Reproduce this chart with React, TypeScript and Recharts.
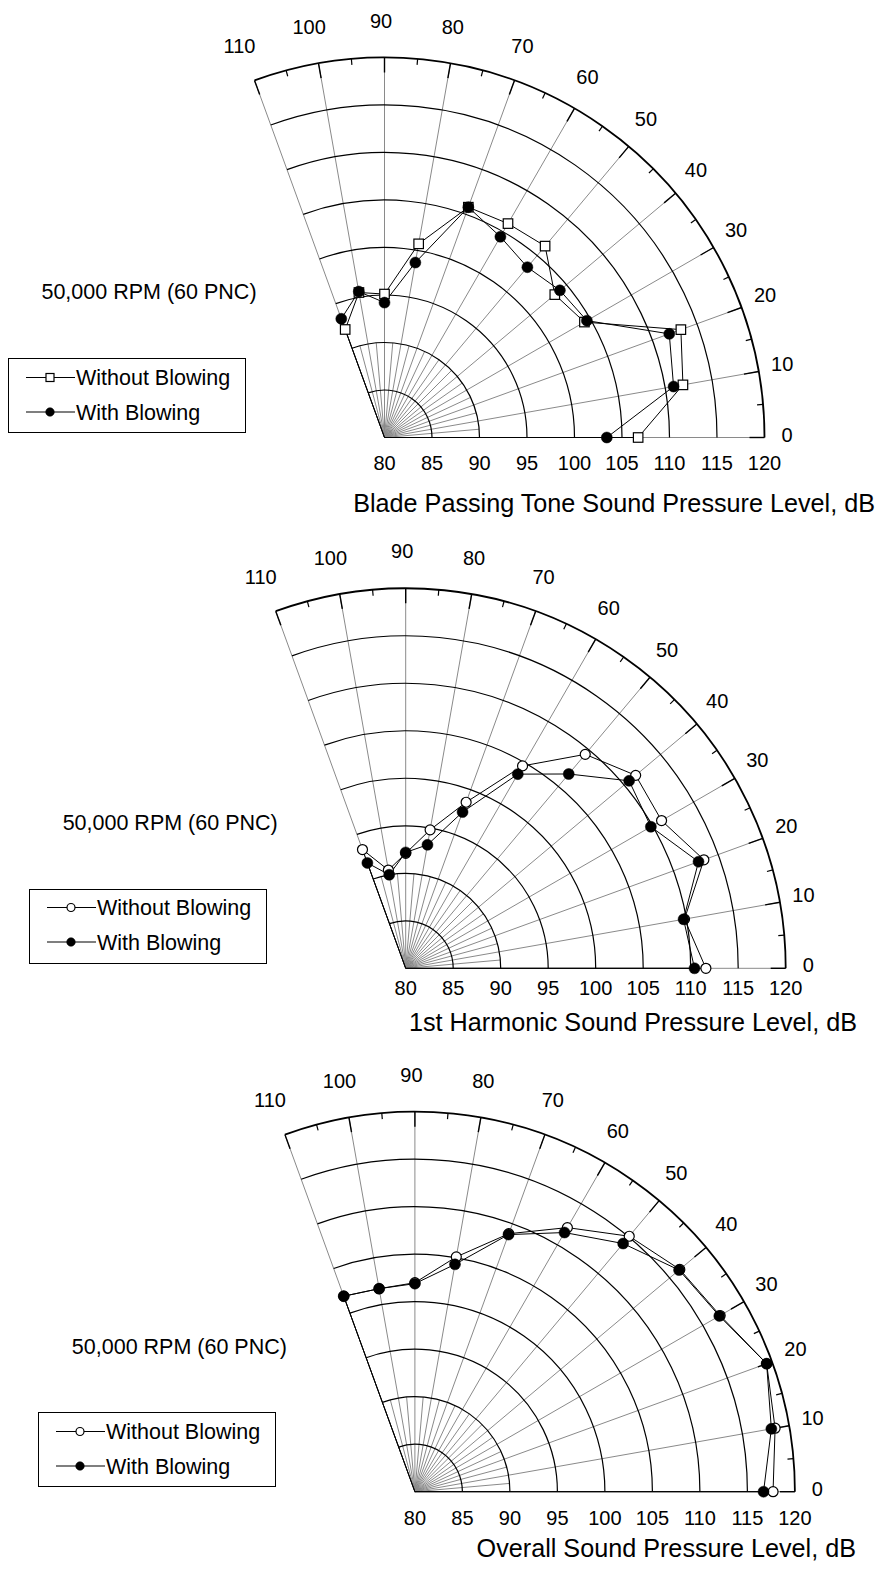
import React from 'react';
import { RadarChart, Radar, PolarGrid, PolarAngleAxis, PolarRadiusAxis, Legend } from 'recharts';

// ---- data ----
const ANGLES = [0, 10, 20, 30, 40, 50, 60, 70, 80, 90, 100, 110];
const MINOR_ANGLES = [5, 15, 25, 35, 45, 55, 65, 75, 85, 95, 105];
const RADIUS_TICKS = [80, 85, 90, 95, 100, 105, 110, 115, 120];
const ARC_LEVELS = [85, 90, 95, 100, 105, 110, 115];

const BPT_WITHOUT = [106.7, 111.9, 113.2, 104.3, 103.4, 106.3, 106.0, 105.8, 100.7, 95.1, 95.5, 92.1];
const BPT_WITH = [103.4, 110.9, 111.9, 104.6, 104.1, 103.4, 104.4, 105.8, 98.7, 94.2, 95.6, 93.3];

const H1_WITHOUT = [111.6, 109.8, 113.4, 111.1, 111.6, 109.4, 104.6, 98.6, 94.8, 92.1, 90.5, 93.3];
const H1_WITH = [110.4, 109.7, 112.8, 109.8, 110.7, 106.7, 103.6, 97.5, 93.2, 92.2, 90.0, 91.8];

const OA_WITHOUT = [117.7, 118.5, 119.4, 117.1, 116.4, 115.1, 112.1, 108.9, 105.1, 102.0, 101.7, 101.9];
const OA_WITH = [116.7, 118.1, 119.4, 117.0, 116.3, 114.1, 111.5, 108.8, 104.3, 101.9, 101.7, 101.9];

const SERIES_NAMES = ['Without Blowing', 'With Blowing'];
const CONDITION_LABEL = '50,000 RPM (60 PNC)';
const TITLES = [
  'Blade Passing Tone Sound Pressure Level, dB',
  '1st Harmonic Sound Pressure Level, dB',
  'Overall Sound Pressure Level, dB',
];

// ---- styling / layout ----
const FONT = '"Liberation Sans", Arial, Helvetica, sans-serif';
const R = 380;
const R_MIN = 80;
const R_MAX = 120;

type Kind = 'square' | 'open' | 'filled';

function buildRows(without: number[], withB: number[]) {
  const rows: any[] = ANGLES.map((a, i) => ({ angle: a, without: without[i], with: withB[i] }));
  // trailing empty row keeps the polyline open (no closing segment)
  rows.push({ angle: 110, without: null, with: null });
  return rows;
}

function Marker({ kind, x, y, size }: { kind: Kind; x: number; y: number; size: number }) {
  if (kind === 'square') {
    return <rect x={x - size / 2} y={y - size / 2} width={size} height={size} fill="#fff" stroke="#000" strokeWidth={1.2} />;
  }
  if (kind === 'open') {
    return <circle cx={x} cy={y} r={size / 2} fill="#fff" stroke="#000" strokeWidth={1.2} />;
  }
  return <circle cx={x} cy={y} r={size / 2} fill="#000" stroke="#000" strokeWidth={0.5} />;
}

function makeDot(kind: Kind, size: number, dataKey: string) {
  return (p: any) => {
    const key = `dot-${dataKey}-${p.index}`;
    const v = p.payload ? p.payload[dataKey] : p.value;
    if (v == null || !Number.isFinite(p.cx) || !Number.isFinite(p.cy)) return <g key={key} />;
    return (
      <g key={key}>
        <Marker kind={kind} x={p.cx} y={p.cy} size={size} />
      </g>
    );
  };
}

function SectorGrid({ cx, cy }: { cx: number; cy: number }) {
  const rOf = (v: number) => ((v - R_MIN) / (R_MAX - R_MIN)) * R;
  const pt = (r: number, a: number) => [cx + r * Math.cos((a * Math.PI) / 180), cy - r * Math.sin((a * Math.PI) / 180)];
  const arc = (r: number) => {
    const [x0, y0] = pt(r, 0);
    const [x1, y1] = pt(r, 110);
    return `M${x0},${y0} A${r},${r} 0 0 0 ${x1},${y1}`;
  };
  const rMinor = rOf(90);
  return (
    <g className="sector-grid">
      {MINOR_ANGLES.map((a) => {
        const [x, y] = pt(rMinor, a);
        return <line key={`ms${a}`} x1={cx} y1={cy} x2={x} y2={y} stroke="#8a8a8a" strokeWidth={1} />;
      })}
      {ARC_LEVELS.map((v) => (
        <path key={`arc${v}`} d={arc(rOf(v))} fill="none" stroke="#000" strokeWidth={1.2} />
      ))}
      <path d={arc(R)} fill="none" stroke="#000" strokeWidth={1.8} />
      {ANGLES.map((a) => {
        const [x0, y0] = pt(R - 15, a);
        const [x1, y1] = pt(R, a);
        return <line key={`mt${a}`} x1={x0} y1={y0} x2={x1} y2={y1} stroke="#000" strokeWidth={1.4} />;
      })}
      {MINOR_ANGLES.map((a) => {
        const [x0, y0] = pt(R - 6, a);
        const [x1, y1] = pt(R, a);
        return <line key={`nt${a}`} x1={x0} y1={y0} x2={x1} y2={y1} stroke="#000" strokeWidth={1.2} />;
      })}
    </g>
  );
}

function LegendBox({ payload, kind }: { payload?: any[]; kind: Kind }) {
  const names = (payload && payload.length ? payload.map((p) => p.value) : SERIES_NAMES)
    .slice()
    .sort((a: string, b: string) => SERIES_NAMES.indexOf(a) - SERIES_NAMES.indexOf(b));
  return (
    <div
      style={{
        width: 238,
        height: 75,
        boxSizing: 'border-box',
        border: '1.5px solid #000',
        background: '#fff',
        position: 'relative',
      }}
    >
      <svg width={238} height={75} style={{ position: 'absolute', left: -1.5, top: -1.5 }}>
        {names.map((n: string, i: number) => {
          const y = i === 0 ? 19.5 : 54;
          const k: Kind = n === SERIES_NAMES[0] ? kind : 'filled';
          return (
            <g key={n}>
              <line x1={18} x2={67} y1={y} y2={y} stroke="#000" strokeWidth={1.2} />
              <Marker kind={k} x={42} y={y} size={k === 'filled' ? 8.6 : 8} />
              <text x={68} y={y + 7.6} fontSize={21.5} fontFamily={FONT} fill="#000">
                {n}
              </text>
            </g>
          );
        })}
      </svg>
    </div>
  );
}

type PanelProps = {
  top: number;
  cx: number;
  cy: number;
  without: number[];
  withB: number[];
  kind: Kind;
  title: string;
  titleRight: number;
  titleBaseline: number;
  tickDy: number;
};

function Panel({ top, cx, cy, without, withB, kind, title, titleRight, titleBaseline, tickDy }: PanelProps) {
  const rows = buildRows(without, withB);
  const angleTick = (p: any) => {
    const a = p.payload?.coordinate ?? p.payload?.value ?? 0;
    const rad = (a * Math.PI) / 180;
    const L = 406 + 8 * Math.sin(rad);
    const x = cx + L * Math.cos(rad) - 3.5;
    const y = cy - L * Math.sin(rad) - 3;
    return (
      <text x={x} y={y + 7} textAnchor="middle" fontSize={20} fontFamily={FONT} fill="#000">
        {p.payload?.value}
      </text>
    );
  };
  const radiusTick = (p: any) => (
    <text x={p.x} y={cy + tickDy} textAnchor="middle" fontSize={20} fontFamily={FONT} fill="#000">
      {p.payload?.value}
    </text>
  );
  return (
    <div style={{ position: 'absolute', left: 0, top, width: 880, height: 530 }}>
      <RadarChart
        width={880}
        height={530}
        data={rows}
        cx={cx}
        cy={cy}
        innerRadius={0}
        outerRadius={R}
        startAngle={0}
        endAngle={110}
        margin={{ top: 0, right: 0, bottom: 0, left: 0 }}
      >
        <PolarGrid gridType="circle" polarAngles={ANGLES} polarRadius={[]} stroke="#8a8a8a" strokeWidth={1} />
        <SectorGrid cx={cx} cy={cy} />
        <PolarAngleAxis
          dataKey="angle"
          type="number"
          scale="linear"
          domain={[0, 110]}
          ticks={ANGLES}
          axisLine={false}
          tickLine={false}
          tick={angleTick}
        />
        <PolarRadiusAxis
          type="number"
          domain={[R_MIN, R_MAX]}
          angle={0}
          ticks={RADIUS_TICKS}
          axisLine={false}
          tickLine={false}
          tick={radiusTick}
          allowDataOverflow
        />
        <Radar
          name={SERIES_NAMES[0]}
          dataKey="without"
          stroke="#000"
          strokeWidth={1}
          fill="none"
          fillOpacity={0}
          dot={makeDot(kind, kind === 'square' ? 9.5 : 10, 'without')}
          activeDot={false}
          isAnimationActive={false}
        />
        <Radar
          name={SERIES_NAMES[1]}
          dataKey="with"
          stroke="#000"
          strokeWidth={1}
          fill="none"
          fillOpacity={0}
          dot={makeDot('filled', 11, 'with')}
          activeDot={false}
          isAnimationActive={false}
        />
        <Legend
          content={(p: any) => <LegendBox payload={p.payload} kind={kind} />}
          wrapperStyle={{ position: 'absolute', left: cx - 376.5, top: cy - 79.5, width: 238, height: 75, bottom: 'auto' }}
        />
        <text x={cx - 235.5} y={cy - 138.2} textAnchor="middle" fontSize={21.5} fontFamily={FONT} fill="#000">
          {CONDITION_LABEL}
        </text>
        <text x={titleRight} y={titleBaseline} textAnchor="end" fontSize={25.2} fontFamily={FONT} fill="#000">
          {title}
        </text>
      </RadarChart>
    </div>
  );
}

export default function App() {
  return (
    <div
      style={{
        position: 'absolute',
        left: 0,
        top: 0,
        width: 880,
        height: 1570,
        background: '#fff',
        overflow: 'hidden',
        fontFamily: FONT,
      }}
    >
      <Panel top={0} cx={384.5} cy={437.5} without={BPT_WITHOUT} withB={BPT_WITH} kind="square" title={TITLES[0]} titleRight={875} titleBaseline={512} tickDy={32.5} />
      <Panel top={530} cx={405.7} cy={438.3} without={H1_WITHOUT} withB={H1_WITH} kind="open" title={TITLES[1]} titleRight={857} titleBaseline={501} tickDy={26.5} />
      <Panel top={1040} cx={414.9} cy={451.7} without={OA_WITHOUT} withB={OA_WITH} kind="open" title={TITLES[2]} titleRight={856} titleBaseline={517} tickDy={33} />
    </div>
  );
}
